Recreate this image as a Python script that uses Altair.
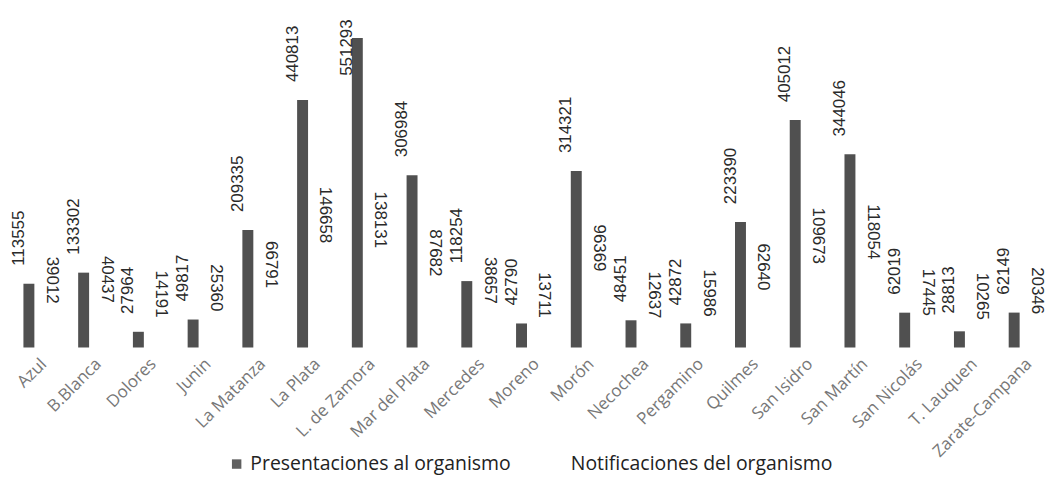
import altair as alt
import pandas as pd

categorias = ["Azul", "B.Blanca", "Dolores", "Junin", "La Matanza", "La Plata",
              "L. de Zamora", "Mar del Plata", "Mercedes", "Moreno", "Morón",
              "Necochea", "Pergamino", "Quilmes", "San Isidro", "San Martín",
              "San Nicolás", "T. Lauquen", "Zarate-Campana"]
presentaciones = [113555, 133302, 27964, 49817, 209335, 440813, 551293, 306984,
                  118254, 42790, 314321, 48451, 42872, 223390, 405012, 344046,
                  62019, 28813, 62149]
notificaciones = [39012, 40437, 14191, 25360, 66791, 146658, 138131, 87682,
                  38657, 13711, 96369, 12637, 15986, 62640, 109673, 118054,
                  17445, 10265, 20346]
series = ["Presentaciones al organismo", "Notificaciones del organismo"]

rows = []
for c, p, n in zip(categorias, presentaciones, notificaciones):
    rows.append({"cat": c, "serie": series[0], "valor": p})
    rows.append({"cat": c, "serie": series[1], "valor": n})
df = pd.DataFrame(rows)

xenc = alt.X("cat:N", sort=categorias, title=None,
             scale=alt.Scale(paddingInner=0, paddingOuter=0),
             axis=alt.Axis(labelAngle=-45, labelFontSize=17, labelFont="Open Sans",
                           labelColor="#777", domain=False, ticks=False,
                           labelPadding=8, labelOffset=3))
yscale = alt.Scale(domain=[0, 602700], nice=False, zero=True)

base = alt.Chart(df)

bars = base.transform_filter(alt.datum.serie == series[0]).mark_bar(
    size=11, xOffset=-6.5, color="#505050"
).encode(
    x=xenc,
    y=alt.Y("valor:Q", scale=yscale, axis=None),
)

legend_src = base.mark_square(size=0).encode(
    x=xenc,
    y=alt.Y("valor:Q", scale=yscale, axis=None),
    color=alt.Color("serie:N", sort=series,
                    scale=alt.Scale(domain=series, range=["#606060", "#ffffff"]),
                    legend=alt.Legend(title=None, orient="none", legendX=220, legendY=447,
                                      direction="horizontal", symbolType="square",
                                      symbolSize=90, symbolOpacity=1,
                                      symbolStrokeWidth=0, labelFontSize=19.5,
                                      labelFont="Open Sans", labelColor="#222",
                                      labelLimit=500, columnPadding=36)),
)

lab1 = base.transform_filter(alt.datum.serie == series[0]).transform_calculate(
    pos="min(datum.valor, 452000)"
).mark_text(angle=270, align="left", baseline="middle", xOffset=-16.5, yOffset=-18,
            fontSize=17, font="Liberation Sans", color="#2a2a2a").encode(
    x=xenc,
    y=alt.Y("pos:Q", scale=yscale, axis=None),
    text=alt.Text("valor:Q", format="d"),
)

lab2 = base.transform_filter(alt.datum.serie == series[1]).mark_text(
    angle=90, align="right", baseline="middle", xOffset=16.5, yOffset=-22,
    fontSize=17, font="Liberation Sans", color="#2a2a2a").encode(
    x=xenc,
    y=alt.Y("valor:Q", scale=yscale, axis=None),
    text=alt.Text("valor:Q", format="d"),
)

chart = alt.layer(legend_src, bars, lab1, lab2).properties(
    width=1045, height=340, padding=0
).configure_view(stroke=None)

chart.save("out.html", embed_options={"renderer": "svg", "actions": False})
